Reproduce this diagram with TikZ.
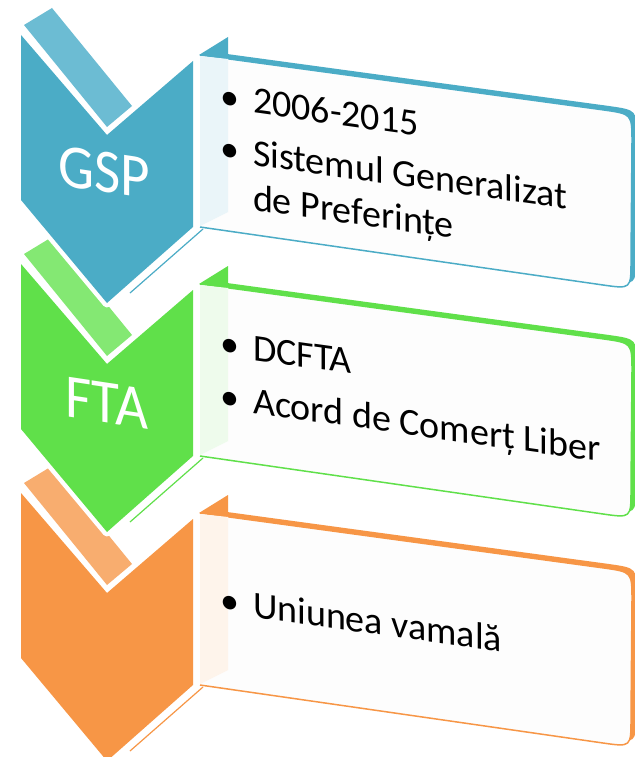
\documentclass[tikz,border=0pt]{standalone}
\usepackage{fontspec}
\setmainfont{Carlito}
\definecolor{bmain}{HTML}{4BACC6}
\definecolor{btab}{HTML}{6CBCD3}
\definecolor{btint}{HTML}{EAF5F9}
\definecolor{gmain}{HTML}{60E04A}
\definecolor{gtab}{HTML}{84E873}
\definecolor{gtint}{HTML}{EEFBEC}
\definecolor{omain}{HTML}{F79646}
\definecolor{otab}{HTML}{F8AD6F}
\definecolor{otint}{HTML}{FEF4EB}
\definecolor{boxfill}{HTML}{FDFDFD}
\tikzset{
  txt/.style={inner sep=0pt, outer sep=0pt, transform shape, font=\fontsize{38}{44}\selectfont, text=black},
  lbl/.style={inner sep=0pt, outer sep=0pt, transform shape, font=\fontsize{62}{62}\selectfont, text=white, xscale=0.92},
}
\newcommand\drawunit[4]{%
  \begin{scope}[shift={(0,#1)}]
    % tab strip
    \fill[#3] (24,25) -- (52,8) -- (132,106) -- (107,127) -- cycle;
    % chevron with white halo
    \filldraw[white, line width=9pt, line join=round]
      (21,35) -- (107,135) -- (193,61) -- (193,227) -- (107,303) -- (21,200) -- cycle;
    \fill[#2] (21,35) -- (107,135) -- (193,61) -- (193,227) -- (107,303) -- (21,200) -- cycle;
    % box depth
    \fill[#2, shift={(5,-4)}] (200,55) -- (604,110) .. controls (632,114) .. (632,142)
      -- (631,261) .. controls (631,289) .. (603,285) -- (200,227) -- cycle;
    % box front
    \fill[boxfill] (200,55) -- (604,110) .. controls (632,114) .. (632,142)
      -- (631,261) .. controls (631,289) .. (603,285) -- (200,227) -- cycle;
    \draw[#2, line width=1.5pt] (200,55) -- (604,110) .. controls (632,114) .. (632,142)
      -- (631,261) .. controls (631,289) .. (603,285) -- (200,227);
    % left face
    \fill[#4] (200,56) -- (228,59) -- (228,212) -- (200,226) -- cycle;
    % top triangle
    \fill[#2] (199,55) -- (228,37) -- (228,58) -- cycle;
    % depth edge below box
    \draw[#2, line width=1.2pt] (203,229) -- (130,293);
  \end{scope}}
\begin{document}
\begin{tikzpicture}[x=1pt, y=-1pt]
\useasboundingbox (0,0) rectangle (634,757);
\fill[white] (0,0) rectangle (634,757);
\drawunit{458}{omain}{otab}{otint}
\drawunit{229}{gmain}{gtab}{gtint}
\drawunit{0}{bmain}{btab}{btint}
% chevron labels
\begin{scope}[shift={(104,192)}, yslant=-0.15]
  \node[lbl, anchor=base] (gsp) at (0,0) {GSP};
\end{scope}
\begin{scope}[shift={(107,423)}, yslant=-0.15]
  \node[lbl, anchor=base] (fta) at (0,0) {FTA};
\end{scope}
% blue texts
\begin{scope}[shift={(253,113)}, yslant=-0.14]
  \node[txt, anchor=base] (b1) at (-23,0) {\textbullet};
  \node[txt, anchor=base west] (t1) at (0,0) {2006-2015};
\end{scope}
\begin{scope}[shift={(253,165)}, yslant=-0.14]
  \node[txt, anchor=base] (b2) at (-23,0) {\textbullet};
  \node[txt, anchor=base west] (t2) at (0,0) {Sistemul Generalizat};
\end{scope}
\begin{scope}[shift={(253,210)}, yslant=-0.14]
  \node[txt, anchor=base west] (t3) at (0,0) {de Preferințe};
\end{scope}
% green texts
\begin{scope}[shift={(253,360)}, yslant=-0.14]
  \node[txt, anchor=base] (b4) at (-23,0) {\textbullet};
  \node[txt, anchor=base west] (t4) at (0,0) {DCFTA};
\end{scope}
\begin{scope}[shift={(253,413)}, yslant=-0.14]
  \node[txt, anchor=base] (b5) at (-23,0) {\textbullet};
  \node[txt, anchor=base west] (t5) at (0,0) {Acord de Comerț Liber};
\end{scope}
% orange text
\begin{scope}[shift={(253,617)}, yslant=-0.14]
  \node[txt, anchor=base] (b6) at (-23,0) {\textbullet};
  \node[txt, anchor=base west] (t6) at (0,0) {Uniunea vamală};
\end{scope}
\end{tikzpicture}
\end{document}
